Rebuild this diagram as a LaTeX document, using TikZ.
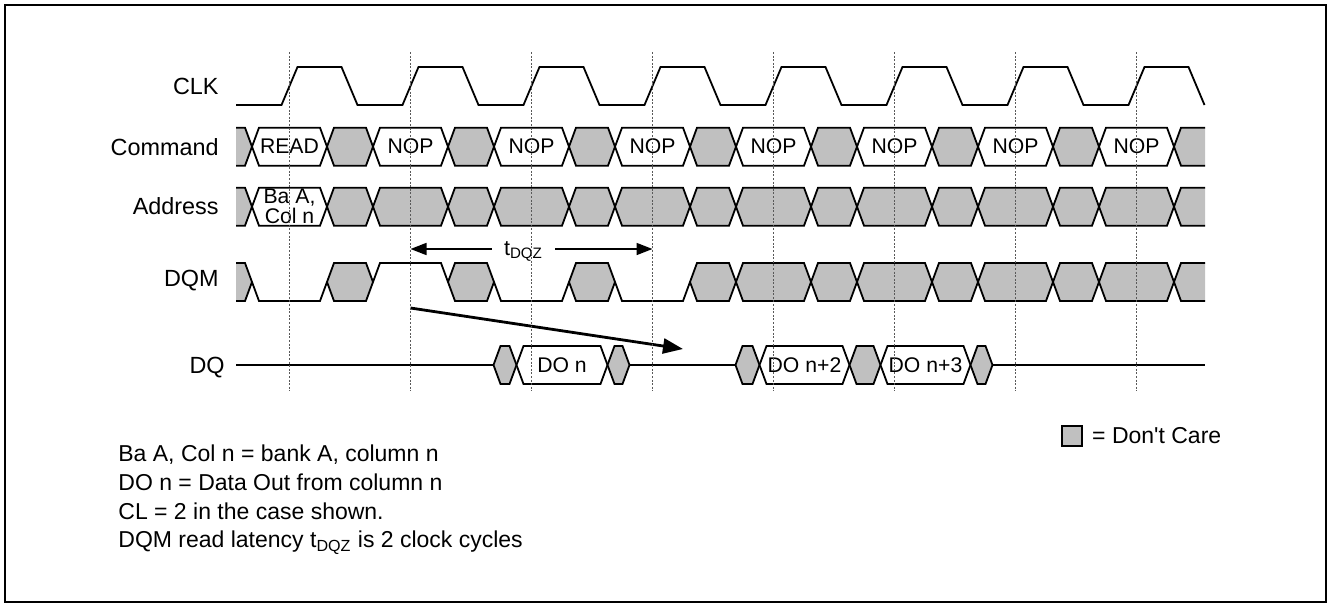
\documentclass[tikz,border=0pt]{standalone}
\usepackage{fontspec}
\setmainfont{Liberation Sans}
\usetikzlibrary{arrows.meta, positioning, calc}

\definecolor{dcgray}{RGB}{192,192,192}

\begin{document}
\begin{tikzpicture}[x=0.5pt, y=-0.5pt, line join=miter]
		
		%======================
		% PARAMETERS (pixel grid, y grows downwards)
		%======================
		\def\tzero{289.5}    % first rising clock edge
		\def\per{121}        % clock period
		\def\hv{37.5}        % half width of a valid window
		\def\xw{7}           % half width of a bus crossing
		\def\bh{19}          % half height of a bus
		\def\xstart{236}     % left end of the traces
		\def\xend{1205}      % right end of the traces
		
		% rows
		\def\yclkhi{67}
		\def\yclklo{105}
		\def\ycmd{146.7}
		\def\yadr{206.7}
		\def\ydqm{282}
		\def\ydq{365}
		
		%======================
		% STYLES
		%======================
		\tikzset{
			trace/.style={line width=0.9pt, black},
			frame/.style={line width=0.85pt, black},
			edgeline/.style={line width=0.45pt, black!65, dash pattern=on 1pt off 0.8pt},
			siglabel/.style={anchor=base east, inner sep=0pt, font=\fontsize{11.7}{14}\selectfont},
			bustext/.style={inner sep=0pt, font=\fontsize{10.6}{12}\selectfont},
			addrtext/.style={inner sep=0pt, align=center, font=\fontsize{10.6}{8.5}\selectfont},
			dqztext/.style={anchor=base, inner xsep=6pt, inner ysep=0pt, font=\fontsize{10.8}{12}\selectfont},
			dqzarrow/.style={line width=0.85pt, -{Triangle[length=8pt, width=6pt]}},
			latarrow/.style={line width=1.4pt, -{Triangle[length=10pt, width=7.5pt]}},
			notetext/.style={anchor=base west, inner sep=0pt, font=\fontsize{11.5}{14}\selectfont},
			legendbox/.style={draw, line width=0.8pt, fill=dcgray, minimum size=10pt, inner sep=0pt}
		}
		
		% Utility: bus segment between crossings #1 and #2 on row #3, filled with #4
		\newcommand{\busseg}[4]{
			\draw[trace, fill=#4] (#1,#3) -- ({#1+\xw},{#3-\bh}) -- ({#2-\xw},{#3-\bh})
			-- (#2,#3) -- ({#2-\xw},{#3+\bh}) -- ({#1+\xw},{#3+\bh}) -- cycle;
		}
		% Utility: low / high level between crossings #1 and #2 on row #3
		\newcommand{\lowseg}[3]{
			\draw[trace] (#1,#3) -- ({#1+\xw},{#3+\bh}) -- ({#2-\xw},{#3+\bh}) -- (#2,#3);
		}
		\newcommand{\highseg}[3]{
			\draw[trace] (#1,#3) -- ({#1+\xw},{#3-\bh}) -- ({#2-\xw},{#3-\bh}) -- (#2,#3);
		}
		
		\useasboundingbox (0,0) rectangle (1329,605);
		\draw[frame] (5,5) rectangle (1326,602);
		
		%----------------------
		% Signal names
		%----------------------
		\node[siglabel] (lclk) at (219,94.5) {CLK};
		\node[siglabel] (lcmd) at (219,155) {Command};
		\node[siglabel] (ladr) at (219,214.5) {Address};
		\node[siglabel] (ldqm) at (219,286) {DQM};
		\node[siglabel] (ldq) at (225,373) {DQ};
		
		%----------------------
		% CLK
		%----------------------
		\draw[trace] (\xstart,\yclklo)
		\foreach \k in {0,...,7} {
			-- ({\tzero+\k*\per-8},\yclklo) -- ({\tzero+\k*\per+8},\yclkhi)
			-- ({\tzero+\k*\per+52},\yclkhi) -- ({\tzero+\k*\per+68},\yclklo)
		};
		
		\begin{scope}
			\clip (\xstart,0) rectangle (\xend,605);
			
			%----------------------
			% Command
			%----------------------
			\foreach \k/\cmd in {0/READ,1/NOP,2/NOP,3/NOP,4/NOP,5/NOP,6/NOP,7/NOP} {
				\pgfmathsetmacro{\tk}{\tzero+\k*\per}
				\busseg{\tk-\per+\hv}{\tk-\hv}{\ycmd}{dcgray}
				\busseg{\tk-\hv}{\tk+\hv}{\ycmd}{white}
				\node[bustext] (cmd\k) at (\tk,\ycmd) {\cmd};
			}
			\busseg{\tzero+7*\per+\hv}{\tzero+8*\per-\hv}{\ycmd}{dcgray}
			
			%----------------------
			% Address
			%----------------------
			\foreach \k in {0,...,8} {
				\pgfmathsetmacro{\tk}{\tzero+\k*\per}
				\busseg{\tk-\per+\hv}{\tk-\hv}{\yadr}{dcgray}
			}
			\foreach \k in {1,...,7} {
				\pgfmathsetmacro{\tk}{\tzero+\k*\per}
				\busseg{\tk-\hv}{\tk+\hv}{\yadr}{dcgray}
			}
			\busseg{\tzero-\hv}{\tzero+\hv}{\yadr}{white}
			\node[addrtext] (bacol) at (\tzero,\yadr) {Ba A,\\Col n};
			
			%----------------------
			% DQM
			%----------------------
			\foreach \k in {0,...,8} {
				\pgfmathsetmacro{\tk}{\tzero+\k*\per}
				\busseg{\tk-\per+\hv}{\tk-\hv}{\ydqm}{dcgray}
			}
			\foreach \k in {0,2,3} {
				\pgfmathsetmacro{\tk}{\tzero+\k*\per}
				\lowseg{\tk-\hv}{\tk+\hv}{\ydqm}
			}
			\highseg{\tzero+\per-\hv}{\tzero+\per+\hv}{\ydqm}
			\foreach \k in {4,...,7} {
				\pgfmathsetmacro{\tk}{\tzero+\k*\per}
				\busseg{\tk-\hv}{\tk+\hv}{\ydqm}{dcgray}
			}
		\end{scope}
		
		%----------------------
		% DQ
		%----------------------
		\pgfmathsetmacro{\ta}{\tzero+2*\per}
		\pgfmathsetmacro{\tb}{\tzero+4*\per}
		\draw[trace] (\xstart,\ydq) -- ({\ta-38},\ydq);
		\busseg{\ta-38}{\ta-15}{\ydq}{dcgray}
		\busseg{\ta-15}{\ta+76}{\ydq}{white}
		\busseg{\ta+76}{\ta+98}{\ydq}{dcgray}
		\draw[trace] ({\ta+98},\ydq) -- ({\tb-38},\ydq);
		\busseg{\tb-38}{\tb-14}{\ydq}{dcgray}
		\busseg{\tb-14}{\tb+76}{\ydq}{white}
		\busseg{\tb+76}{\tb+\per-14}{\ydq}{dcgray}
		\busseg{\tb+\per-14}{\tb+\per+76}{\ydq}{white}
		\busseg{\tb+\per+76}{\tb+\per+98}{\ydq}{dcgray}
		\draw[trace] ({\tb+\per+98},\ydq) -- (\xend,\ydq);
		\node[bustext] (don) at ({\ta+30.5},\ydq) {DO n};
		\node[bustext] (dontwo) at ({\tb+31},\ydq) {DO n+2};
		\node[bustext] (donthree) at ({\tb+\per+31},\ydq) {DO n+3};
		
		%----------------------
		% t_DQZ and latency arrow
		%----------------------
		\coordinate (dqzL) at ({\tzero+\per},249);
		\coordinate (dqzR) at ({\tzero+3*\per},249);
		\node[dqztext] (tdqz) at (523.5,255.5) {t\textsubscript{DQZ}};
		\draw[dqzarrow] (tdqz.west |- dqzL) -- (dqzL);
		\draw[dqzarrow] (tdqz.east |- dqzR) -- (dqzR);
		
		\coordinate (dqmoff) at ({\tzero+\per},308);
		\coordinate (dqhiz) at (683,349);
		\draw[latarrow] (dqmoff) -- (dqhiz);
		
		%----------------------
		% clock edges (on top)
		%----------------------
		\foreach \k in {0,...,7} {
			\draw[edgeline] ({\tzero+\k*\per},52) -- ({\tzero+\k*\per},391);
		}
		
		%----------------------
		% Legend and notes
		%----------------------
		\node[legendbox] (dcbox) at (1072,436) {};
		\node[bustext, font=\fontsize{11.5}{14}\selectfont, right=4.5pt of dcbox] (dclabel) {= Don\textquotesingle t Care};
		
		\node[notetext] (note1) at (118,461.5) {Ba A, Col n = bank A, column n};
		\node[notetext] (note2) at (118,490.3) {DO n = Data Out from column n};
		\node[notetext] (note3) at (118,519) {CL = 2 in the case shown.};
		\node[notetext] (note4) at (118,547.7) {DQM read latency t\textsubscript{DQZ} is 2 clock cycles};
		
	\end{tikzpicture}
\end{document}
